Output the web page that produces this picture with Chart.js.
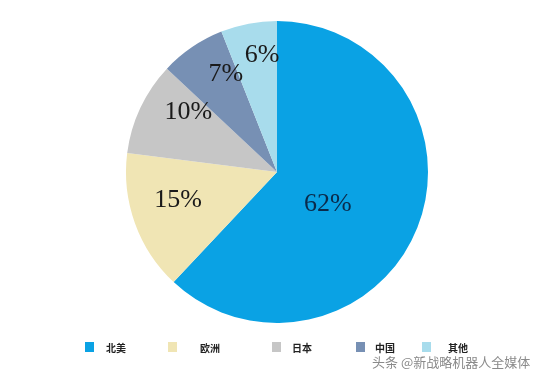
<!DOCTYPE html>
<html>
<head>
<meta charset="utf-8">
<script src="https://cdn.jsdelivr.net/npm/chart.js@4"></script>
<style>
  html, body { margin:0; padding:0; background:#fff; }
  #wrap { position:relative; width:554px; height:381px; overflow:hidden; }
  #pie { position:absolute; left:0; top:0; }
  .lg { position:absolute; top:341px; height:12px; font:bold 10px "Noto Sans CJK SC", sans-serif; color:#222; }
  .lg i { position:absolute; left:0; top:1px; width:9px; height:10px; }
  .lg span { position:absolute; top:-1px; white-space:nowrap; }
  #mark { position:absolute; left:372px; top:352px; font:13px "Noto Sans CJK SC", sans-serif; color:#8a8a8a; white-space:nowrap; }
</style>
</head>
<body>
<div id="wrap">
  <canvas id="pie" width="554" height="381"></canvas>
  <div id="legend"></div>
  <div id="mark">头条 @新战略机器人全媒体</div>
</div>
<script>
document.addEventListener("DOMContentLoaded", () => {

  /* ------------------- DATA -------------------- */
  const REGIONS = ["北美", "欧洲", "日本", "中国", "其他"];
  const SHARES  = [62, 15, 10, 7, 6];
  const COLORS  = ["#0aa2e4", "#f0e5b4", "#c6c6c6", "#7790b4", "#a8dcec"];

  // legend layout (px) and where each % label sits inside its slice
  const LEGEND_LEFT = [85, 168, 272, 356, 422];
  const LEGEND_GAP  = [21, 32, 20, 19, 26];
  const LABEL_R     = [0.40, 0.68, 0.71, 0.73, 0.78];
  const LABEL_TURN  = [11, 4, 9, 6.5, 3.5];   // degrees, clockwise nudge
  const LABEL_COLOR = ["#0b2a4a", "#1a1a1a", "#1a1a1a", "#1a1a1a", "#1a1a1a"];

  /* ------------------- LEGEND -------------------- */
  document.getElementById("legend").innerHTML = REGIONS.map((r,i) =>
    `<div class="lg" style="left:${LEGEND_LEFT[i]}px"><i style="background:${COLORS[i]}"></i><span style="left:${LEGEND_GAP[i]}px">${r}</span></div>`
  ).join('');

  /* ------------------- % LABELS -------------------- */
  const pctLabels = {
    id: 'pctLabels',
    afterDatasetsDraw(chart){
      const ctx = chart.ctx;
      const meta = chart.getDatasetMeta(0);
      ctx.save();
      ctx.font = '26px "Liberation Serif", "DejaVu Serif", serif';
      ctx.textAlign = 'center';
      ctx.textBaseline = 'middle';
      meta.data.forEach((arc, i) => {
        const p = arc.getProps(['x','y','startAngle','endAngle','outerRadius'], true);
        const mid = (p.startAngle + p.endAngle) / 2 + LABEL_TURN[i] * Math.PI / 180;
        const r = p.outerRadius * LABEL_R[i];
        ctx.fillStyle = LABEL_COLOR[i];
        ctx.fillText(SHARES[i] + '%', p.x + Math.cos(mid)*r, p.y + Math.sin(mid)*r);
      });
      ctx.restore();
    }
  };

  /* ------------------- CHART -------------------- */
  new Chart(document.getElementById("pie").getContext("2d"), {
    type: 'pie',
    data: {
      labels: REGIONS,
      datasets: [{
        data: SHARES,
        backgroundColor: COLORS,
        borderWidth: 0
      }]
    },
    options: {
      responsive: false,
      animation: false,
      layout: { padding: { top: 21, bottom: 58, left: 0, right: 0 } },
      plugins: { legend: { display: false }, tooltip: { enabled: false } }
    },
    plugins: [pctLabels]
  });

});
</script>
</body>
</html>
